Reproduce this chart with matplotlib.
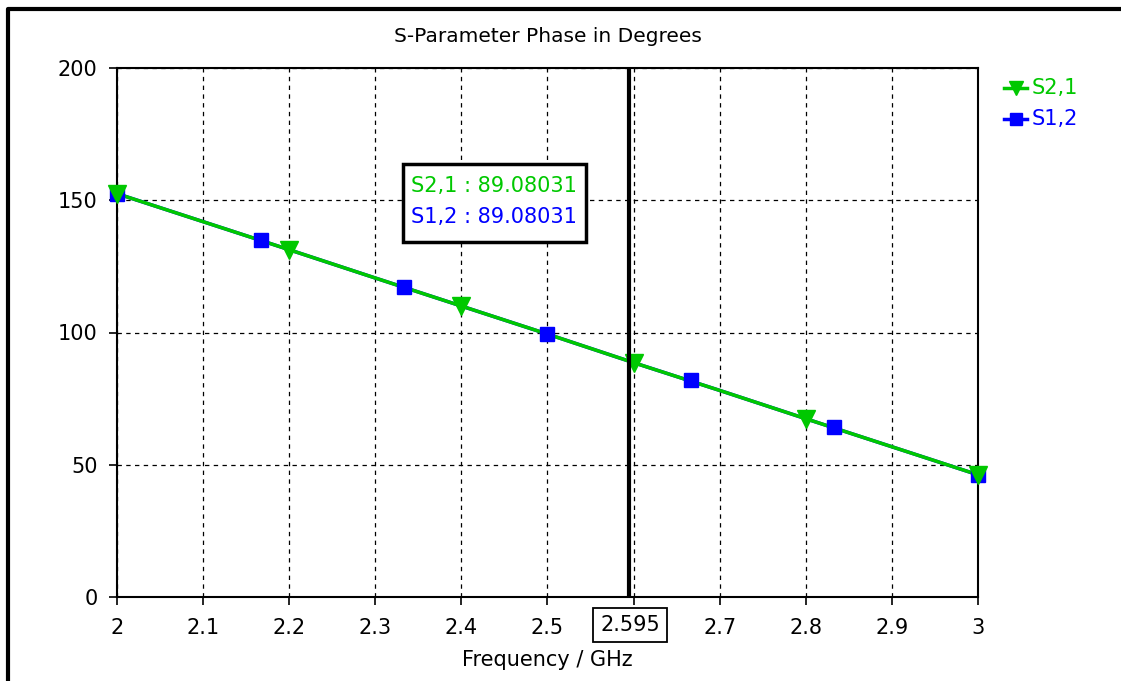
import matplotlib
matplotlib.use("Agg")
import matplotlib.pyplot as plt
from matplotlib.lines import Line2D
from matplotlib.patches import Rectangle

# S2,1 phase (degrees) sampled along the frequency sweep (GHz)
freq_s21 = [2.0, 2.1, 2.2, 2.3, 2.4, 2.5, 2.6, 2.7, 2.8, 2.9, 3.0]
phase_s21 = [152.5, 141.9, 131.3, 120.6, 110.0, 99.4, 88.6, 78.1, 67.4, 56.8, 46.2]
# positions of the triangle markers on S2,1
mark_s21_f = [2.0, 2.2, 2.4, 2.6, 2.8, 3.0]
mark_s21_p = [152.5, 131.3, 110.0, 88.6, 67.4, 46.2]

# S1,2 phase (reciprocal, identical curve)
freq_s12 = freq_s21
phase_s12 = phase_s21
mark_s12_f = [2.0, 2.1667, 2.3333, 2.5, 2.6667, 2.8333, 3.0]
mark_s12_p = [152.5, 134.9, 117.2, 99.6, 81.9, 64.2, 46.2]

marker_freq = 2.595
marker_value = 89.08031

x_ticks = [2.0, 2.1, 2.2, 2.3, 2.4, 2.5, 2.6, 2.7, 2.8, 2.9, 3.0]
x_tick_labels = ["2", "2.1", "2.2", "2.3", "2.4", "2.5", "", "2.7", "2.8", "2.9", "3"]
y_ticks = [0, 50, 100, 150, 200]

GREEN = "#00c800"
BLUE = "#0000ff"
FONT = "DejaVu Sans"
FS = 15
plt.rcParams["font.family"] = FONT

fig = plt.figure(figsize=(11.21, 6.81), dpi=100)
ax = fig.add_axes([117 / 1121, 1 - 597 / 681, (978 - 117) / 1121, (597 - 68) / 681])

ax.plot(freq_s12, phase_s12, color=BLUE, lw=2.5, zorder=2)
ax.plot(freq_s21, phase_s21, color=GREEN, lw=2.5, zorder=3)
ax.plot(mark_s12_f, mark_s12_p, ls="none", marker="s", ms=10.5, mfc=BLUE, mec=BLUE,
        zorder=4, clip_on=False)
ax.plot(mark_s21_f, mark_s21_p, ls="none", marker="v", ms=12.5, mfc=GREEN, mec=GREEN,
        zorder=5, clip_on=False)

ax.set_xlim(2.0, 3.0)
ax.set_ylim(0, 200)
ax.set_xticks(x_ticks)
ax.set_xticklabels(x_tick_labels)
ax.set_yticks(y_ticks)
ax.tick_params(direction="out", length=6, width=1.2, labelsize=FS, colors="black")
ax.tick_params(axis="x", pad=9)
ax.tick_params(axis="y", pad=8)
ax.grid(True, color="black", ls=(0, (3.5, 3.5)), lw=0.9)
for s in ax.spines.values():
    s.set_linewidth(1.5)
    s.set_color("black")

# marker line
ax.axvline(marker_freq, color="black", lw=3, zorder=6)

ax.set_title("S-Parameter Phase in Degrees", fontsize=14.5, pad=19)
ax.set_xlabel("Frequency / GHz", fontsize=FS, labelpad=9)

# marker frequency box on the x axis
ax.text(marker_freq + 0.001, -0.053, f"{marker_freq:.3f}", transform=ax.get_xaxis_transform(),
        ha="center", va="center", fontsize=FS,
        bbox=dict(boxstyle="square,pad=0.35", fc="white", ec="black", lw=1.3))

# marker readout box
fig.patches.append(Rectangle((403 / 1121, 1 - 242 / 681), (586 - 403) / 1121, (242 - 164) / 681,
                             transform=fig.transFigure, fc="white", ec="black", lw=2.5, zorder=10))
fig.text(411 / 1121, 1 - 186 / 681, f"S2,1 : {marker_value:.5f}", color=GREEN, fontsize=FS,
         va="center", ha="left", zorder=11)
fig.text(411 / 1121, 1 - 217 / 681, f"S1,2 : {marker_value:.5f}", color=BLUE, fontsize=FS,
         va="center", ha="left", zorder=11)

# legend
leg_x0, leg_x1 = 1004 / 1121, 1027 / 1121
for yy, mk, col, lab, ms in [(88, "v", GREEN, "S2,1", 10), (119, "s", BLUE, "S1,2", 9)]:
    yf = 1 - yy / 681
    fig.add_artist(Line2D([leg_x0, leg_x1], [yf, yf], color=col, lw=2.5, transform=fig.transFigure))
    fig.add_artist(Line2D([(leg_x0 + leg_x1) / 2], [yf], marker=mk, ms=ms, color=col,
                          transform=fig.transFigure))
    fig.text(1032 / 1121, yf, lab, color=col, fontsize=FS, va="center", ha="left")

# outer frame
fig.add_artist(Line2D([8 / 1121, 8 / 1121, 1.0], [0.0, 1 - 9 / 681, 1 - 9 / 681],
                      color="black", lw=3, transform=fig.transFigure))

fig.savefig("out.png", dpi=100, facecolor="white")
